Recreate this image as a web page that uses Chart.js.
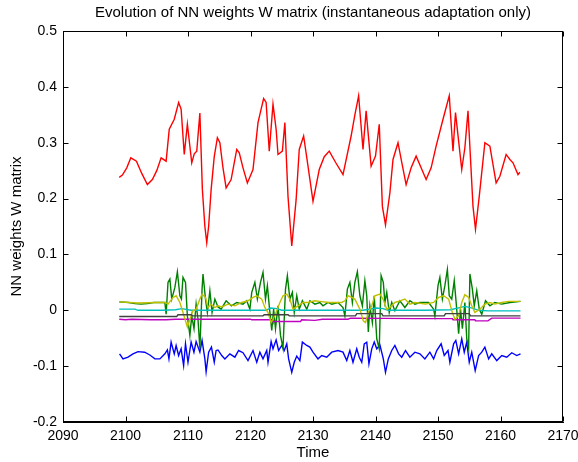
<!DOCTYPE html>
<html>
<head>
<meta charset="utf-8">
<script src="https://cdn.jsdelivr.net/npm/chart.js@4/dist/chart.umd.min.js"></script>
<style>
html,body{margin:0;padding:0;background:#fff;}
#wrap{width:578px;height:462px;}
</style>
</head>
<body>
<div id="wrap"><canvas id="c" width="578" height="462"></canvas></div>
<script>
// ---- data ----
const xTicks = [2090,2100,2110,2120,2130,2140,2150,2160,2170];
const yTicks = [-0.2,-0.1,0,0.1,0.2,0.3,0.4,0.5];

const redT = [2099.0,2099.5,2100.2,2100.85,2101.75,2102.6,2103.5,2104.3,2105.0,2105.7,2106.5,2107.0,2107.8,2108.5,2108.9,2109.4,2109.9,2110.6,2111.0,2111.4,2111.9,2112.3,2112.7,2113.0,2113.3,2113.7,2114.2,2114.7,2115.1,2115.6,2116.1,2116.9,2117.8,2118.2,2118.8,2119.5,2120.4,2121.2,2121.7,2122.1,2122.5,2123.0,2123.6,2124.1,2124.4,2125.1,2125.5,2126.0,2126.6,2127.3,2127.8,2128.5,2129.2,2130.0,2131.0,2131.8,2132.6,2133.6,2134.8,2136.1,2136.7,2137.3,2138.0,2138.5,2139.3,2140.0,2140.6,2141.1,2141.6,2142.3,2142.8,2143.6,2144.2,2144.9,2145.7,2146.5,2147.3,2148.1,2148.9,2149.7,2150.8,2151.8,2152.4,2152.8,2153.8,2154.3,2154.8,2155.6,2156.0,2156.6,2157.5,2158.3,2159.3,2159.9,2160.9,2161.5,2162.0,2162.8,2163.1];
const redV = [0.238,0.242,0.255,0.273,0.267,0.245,0.225,0.234,0.250,0.273,0.267,0.324,0.342,0.372,0.360,0.279,0.333,0.264,0.280,0.285,0.353,0.216,0.150,0.121,0.150,0.216,0.275,0.309,0.300,0.255,0.219,0.234,0.288,0.282,0.255,0.228,0.252,0.336,0.360,0.379,0.372,0.285,0.369,0.324,0.279,0.285,0.336,0.204,0.115,0.198,0.288,0.312,0.258,0.195,0.252,0.275,0.285,0.265,0.243,0.312,0.350,0.384,0.288,0.357,0.258,0.276,0.333,0.186,0.153,0.210,0.270,0.300,0.265,0.225,0.255,0.276,0.255,0.234,0.255,0.294,0.342,0.384,0.285,0.354,0.252,0.291,0.357,0.186,0.145,0.204,0.300,0.294,0.228,0.240,0.279,0.270,0.264,0.243,0.247];

const greenT = [2099.0,2100.5,2101.5,2102.5,2103.5,2104.5,2105.5,2106.3,2106.5,2106.8,2107.1,2107.4,2107.9,2108.3,2108.7,2108.95,2109.2,2109.6,2109.9,2110.3,2110.6,2110.96,2111.3,2111.6,2111.9,2112.25,2112.4,2112.8,2113.1,2113.5,2113.85,2114.3,2114.8,2115.3,2116.1,2116.95,2117.8,2118.8,2119.4,2119.9,2120.2,2120.7,2121.1,2121.6,2122.0,2122.4,2122.7,2123.0,2123.4,2123.7,2124.0,2124.4,2124.8,2125.2,2125.6,2125.9,2126.3,2126.7,2127.0,2127.4,2127.8,2128.3,2129.0,2129.5,2130.3,2131.1,2131.6,2132.4,2133.0,2134.0,2134.8,2135.1,2135.5,2135.9,2136.3,2136.7,2137.1,2137.5,2137.9,2138.3,2138.6,2138.85,2139.1,2139.5,2139.8,2140.2,2140.6,2140.9,2141.25,2141.5,2141.8,2142.2,2142.6,2143.1,2143.9,2144.7,2145.5,2146.3,2147.1,2148.5,2149.3,2149.5,2150.0,2150.3,2150.7,2151.1,2151.5,2151.8,2152.2,2152.6,2152.95,2153.3,2153.6,2153.9,2154.3,2154.6,2154.9,2155.1,2155.5,2155.8,2156.2,2156.6,2157.0,2157.6,2158.3,2159.1,2160.2,2161.5,2163.2];
const greenV = [0.015,0.014,0.012,0.011,0.012,0.014,0.014,0.014,-0.007,0.050,0.056,0.020,0.041,0.069,0.026,0.020,0.059,0.050,-0.010,-0.045,-0.010,-0.033,0.011,-0.016,-0.069,0.038,0.065,0.020,-0.004,0.035,-0.004,0.020,0.006,0.002,0.017,0.008,0.014,0.011,0.017,0.002,0.032,0.050,0.020,0.050,0.068,0.020,0.044,0.008,-0.036,0.002,-0.033,0.008,-0.045,-0.068,0.038,0.062,0.020,0.032,-0.004,0.026,0.002,0.017,0.002,0.017,0.011,0.014,0.008,0.014,0.011,0.014,0.005,-0.010,0.038,0.050,0.014,0.050,0.069,0.026,0.008,0.053,0.026,-0.039,0.008,-0.022,0.026,-0.051,-0.069,0.062,0.050,0.014,0.032,-0.004,0.014,-0.001,0.017,0.005,0.017,0.011,0.014,0.014,0.002,-0.010,0.044,0.059,0.020,0.044,0.073,0.026,0.020,0.053,0.008,-0.042,0.002,-0.033,0.014,-0.051,-0.068,0.065,0.038,0.008,0.035,0.002,-0.007,0.017,0.008,0.014,0.011,0.014,0.016];

const yellowT = [2099.0,2102.0,2105.0,2106.3,2106.8,2107.6,2108.1,2108.7,2109.2,2109.6,2109.9,2110.3,2110.8,2111.3,2111.9,2112.25,2112.8,2113.2,2113.7,2114.3,2114.8,2115.4,2116.4,2117.5,2118.6,2119.6,2120.4,2121.0,2121.8,2122.3,2122.8,2123.3,2123.6,2124.2,2124.7,2125.2,2125.8,2126.3,2126.8,2127.6,2128.4,2129.2,2130.3,2131.1,2132.5,2134.6,2135.1,2135.6,2136.2,2136.7,2137.5,2138.05,2138.4,2138.85,2139.4,2139.9,2140.7,2141.2,2141.8,2142.3,2143.1,2143.9,2144.7,2145.5,2146.3,2148.0,2149.3,2150.1,2150.9,2151.7,2152.3,2152.7,2153.3,2153.8,2154.3,2154.9,2155.4,2155.9,2156.7,2157.5,2158.3,2159.1,2160.2,2161.3,2163.2];
const yellowV = [0.015,0.013,0.014,0.014,0.011,0.023,0.026,0.014,-0.004,-0.019,-0.030,-0.016,-0.001,0.002,0.020,0.029,0.023,0.005,0.011,0.005,0.008,0.006,0.011,0.008,0.014,0.017,0.023,0.026,0.020,0.005,-0.004,-0.022,-0.016,-0.001,0.014,0.026,0.029,0.020,0.002,0.008,0.014,0.014,0.017,0.016,0.014,0.014,0.017,0.026,0.023,0.020,0.002,-0.019,-0.022,-0.004,0.008,0.026,0.029,0.020,0.002,0.005,0.014,0.017,0.020,0.011,0.014,0.011,0.014,0.023,0.026,0.020,-0.004,-0.016,-0.010,0.014,0.028,0.023,0.008,-0.004,0.002,0.011,0.014,0.011,0.014,0.016,0.016];

const cyanT = [2099.0,2101.5,2102.0,2106.0,2108.0,2109.0,2110.5,2115.0,2122.5,2123.2,2124.2,2125.0,2130.0,2138.0,2140.2,2141.2,2142.0,2148.0,2152.0,2154.3,2155.5,2156.5,2158.0,2163.2];
const cyanV = [0.002,0.002,0.000,0.000,0.001,0.003,0.000,0.000,0.000,0.004,0.003,0.000,0.000,0.000,0.004,0.003,0.000,0.000,0.001,0.007,0.004,0.000,-0.001,-0.001];

const grayT = [2099.0,2108.2,2108.4,2110.5,2110.7,2122.0,2122.2,2126.0,2126.2,2136.8,2137.0,2141.0,2141.2,2151.0,2151.2,2155.0,2155.2,2163.2];
const grayV = [-0.011,-0.011,-0.008,-0.008,-0.010,-0.010,-0.008,-0.008,-0.010,-0.010,-0.006,-0.006,-0.010,-0.010,-0.006,-0.006,-0.010,-0.010];

const magentaT = [2099.0,2100.0,2101.0,2104.0,2106.5,2108.0,2114.0,2120.0,2120.2,2123.5,2123.6,2128.0,2128.2,2130.3,2131.5,2135.6,2136.0,2146.3,2152.3,2152.4,2155.9,2156.0,2158.0,2158.6,2163.2];
const magentaV = [-0.016,-0.017,-0.016,-0.017,-0.017,-0.016,-0.016,-0.016,-0.017,-0.017,-0.020,-0.020,-0.017,-0.018,-0.016,-0.016,-0.014,-0.015,-0.015,-0.017,-0.017,-0.019,-0.019,-0.014,-0.014];

const blueT = [2099.05,2099.6,2100.4,2101.2,2102.0,2103.06,2103.9,2104.7,2105.5,2106.3,2106.7,2106.95,2107.3,2107.8,2108.1,2108.5,2108.9,2109.3,2109.6,2110.0,2110.5,2110.95,2111.3,2111.9,2112.25,2112.7,2112.9,2113.3,2113.75,2114.2,2114.5,2114.8,2115.4,2115.9,2116.7,2117.5,2118.1,2118.8,2119.6,2120.4,2121.0,2121.5,2122.0,2122.6,2122.8,2123.3,2123.6,2124.1,2124.5,2125.0,2125.4,2125.8,2126.1,2126.6,2127.0,2127.4,2127.9,2128.3,2129.0,2129.5,2130.0,2130.8,2131.4,2132.2,2133.0,2134.0,2134.8,2135.4,2135.9,2136.4,2137.0,2137.4,2137.8,2138.2,2138.6,2138.95,2139.4,2139.8,2140.2,2140.7,2141.25,2141.6,2142.05,2142.6,2143.1,2143.7,2144.2,2144.8,2145.5,2146.3,2147.1,2147.9,2148.7,2149.3,2149.8,2150.5,2151.0,2151.6,2151.9,2152.5,2152.85,2153.3,2153.8,2154.2,2154.6,2155.0,2155.4,2155.95,2156.5,2157.0,2157.5,2158.1,2158.6,2159.4,2160.2,2161.0,2161.8,2162.6,2163.2];
const blueV = [-0.078,-0.087,-0.084,-0.078,-0.074,-0.075,-0.080,-0.087,-0.087,-0.078,-0.071,-0.087,-0.057,-0.078,-0.063,-0.081,-0.069,-0.099,-0.060,-0.093,-0.057,-0.075,-0.056,-0.075,-0.054,-0.087,-0.110,-0.075,-0.066,-0.093,-0.072,-0.071,-0.081,-0.087,-0.078,-0.084,-0.072,-0.076,-0.090,-0.072,-0.093,-0.075,-0.087,-0.072,-0.093,-0.056,-0.069,-0.053,-0.072,-0.063,-0.072,-0.060,-0.087,-0.111,-0.093,-0.082,-0.090,-0.057,-0.063,-0.066,-0.075,-0.087,-0.081,-0.084,-0.075,-0.072,-0.075,-0.090,-0.072,-0.093,-0.069,-0.084,-0.093,-0.060,-0.057,-0.096,-0.069,-0.057,-0.069,-0.062,-0.087,-0.111,-0.087,-0.072,-0.063,-0.078,-0.084,-0.072,-0.084,-0.075,-0.078,-0.087,-0.075,-0.087,-0.072,-0.060,-0.081,-0.072,-0.093,-0.060,-0.054,-0.078,-0.051,-0.075,-0.057,-0.093,-0.075,-0.108,-0.081,-0.075,-0.066,-0.087,-0.078,-0.090,-0.081,-0.084,-0.076,-0.081,-0.078];

// ---- chart ----
const FONT = 'Arial, "Liberation Sans", Helvetica, sans-serif';
function pts(t, v){ return t.map((x,i)=>({x:x, y:v[i]})); }
function ds(t, v, color){
  return {data: pts(t,v), borderColor: color, backgroundColor: color, borderWidth: 1.4,
          pointRadius: 0, tension: 0, fill: false};
}

const framePlugin = {
  id: 'frame',
  afterDraw(chart){
    const {ctx, chartArea: a, scales} = chart;
    const L = Math.round(a.left)+0.5, R = Math.round(a.right)-0.5,
          T = Math.round(a.top)+0.5, B = Math.round(a.bottom)-0.5;
    ctx.save();
    ctx.strokeStyle = '#000';
    ctx.lineWidth = 1;
    ctx.strokeRect(L, T, R-L, B-T);
    const len = 5;
    ctx.beginPath();
    xTicks.forEach(v => {
      const p = Math.round(scales.x.getPixelForValue(v))+0.5;
      ctx.moveTo(p, B); ctx.lineTo(p, B-len);
      ctx.moveTo(p, T); ctx.lineTo(p, T+len);
    });
    yTicks.forEach(v => {
      const p = Math.round(scales.y.getPixelForValue(v))+0.5;
      ctx.moveTo(L, p); ctx.lineTo(L+len, p);
      ctx.moveTo(R, p); ctx.lineTo(R-len, p);
    });
    ctx.stroke();
    ctx.restore();
  }
};

new Chart(document.getElementById('c'), {
  type: 'line',
  data: {
    datasets: [
      ds(grayT, grayV, '#404040'),
      ds(yellowT, yellowV, '#bfbf00'),
      ds(magentaT, magentaV, '#bf00bf'),
      ds(cyanT, cyanV, '#00bfbf'),
      ds(redT, redV, '#ff0000'),
      ds(greenT, greenV, '#008000'),
      ds(blueT, blueV, '#0000ff')
    ]
  },
  options: {
    responsive: false,
    animation: false,
    devicePixelRatio: 1,
    layout: {padding: {left: 0, right: 0, top: 0, bottom: 0}},
    plugins: {
      legend: {display: false},
      tooltip: {enabled: false},
      title: {
        display: true,
        fullSize: false,
        text: 'Evolution of NN weights W matrix (instantaneous adaptation only)',
        color: '#000',
        font: {family: FONT, size: 15, weight: 'normal'},
        padding: {top: 4, bottom: 9}
      }
    },
    scales: {
      x: {
        type: 'linear', min: 2090, max: 2170,
        afterBuildTicks(s){ s.ticks = xTicks.map(v => ({value: v})); },
        afterFit(s){ s.height = 40; s.paddingRight = 15; s.paddingLeft = 0; },
        grid: {display: false, drawTicks: false},
        border: {display: true, color: '#000', width: 1},
        ticks: {color: '#000', padding: 6, font: {family: FONT, size: 14}, maxRotation: 0,
                callback: v => String(v)},
        title: {display: true, text: 'Time', color: '#000', font: {family: FONT, size: 15},
                padding: {top: 0, bottom: 0}}
      },
      y: {
        type: 'linear', min: -0.2, max: 0.5,
        afterBuildTicks(s){ s.ticks = yTicks.map(v => ({value: v})); },
        afterFit(s){ s.width = 63; },
        grid: {display: false, drawTicks: false},
        border: {display: true, color: '#000', width: 1},
        ticks: {color: '#000', padding: 6, font: {family: FONT, size: 14},
                callback: v => String(Number(v.toFixed(1)))},
        title: {display: true, text: 'NN weights W matrix', color: '#000', font: {family: FONT, size: 15},
                padding: {top: 8, bottom: 0}}
      }
    }
  },
  plugins: [framePlugin]
});
</script>
</body>
</html>
